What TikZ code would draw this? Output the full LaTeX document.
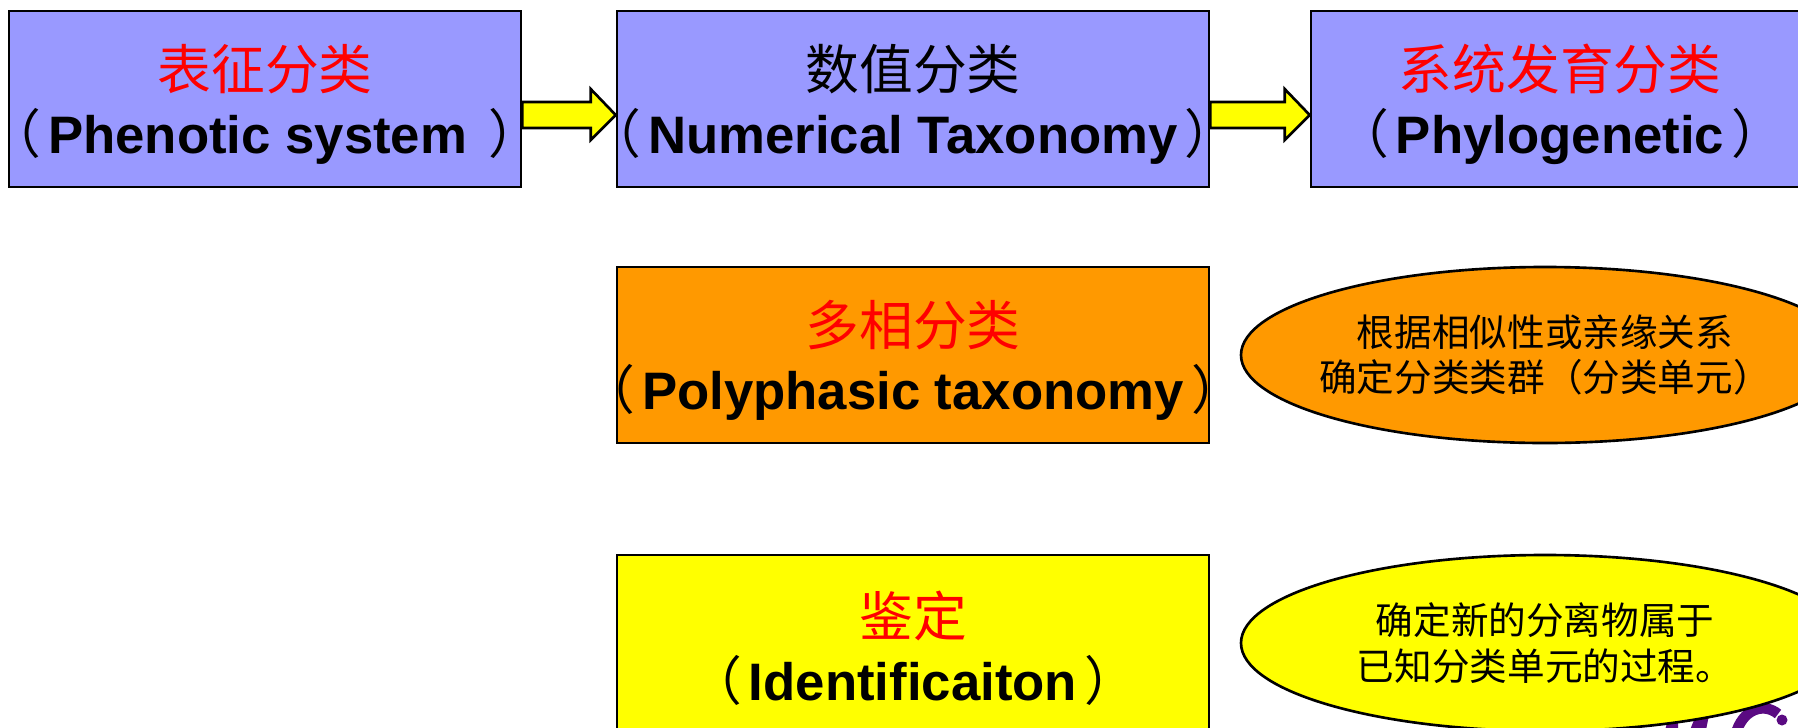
\documentclass[tikz,border=0pt]{standalone}
\usepackage{fontspec}
\setmainfont{Liberation Sans}
\newfontfamily\cjk{Noto Sans CJK SC}
\newfontfamily\cjkhalf[RawFeature=+halt]{Noto Sans CJK SC}
\usetikzlibrary{calc,shapes.geometric}
\definecolor{phenoblue}{RGB}{153,153,255}
\definecolor{polyorange}{RGB}{255,153,0}
\definecolor{logopurple}{RGB}{90,10,130}
\definecolor{idyellow}{RGB}{255,255,0}
\tikzset{
  classbox/.style={draw=black,line width=0.75pt,minimum height=1.76cm,inner sep=0pt,align=center,font=\fontsize{15}{18.2}\selectfont},
  notebubble/.style={ellipse,draw=black,line width=0.75pt,minimum width=6.08cm,minimum height=1.76cm,inner sep=0pt,align=center,font=\cjk\fontsize{10.7}{13}\selectfont},
  fatarrow/.style={draw=black,line width=0.75pt,fill=idyellow,line join=miter}
}
\newcommand{\zh}[1]{{\cjk\fontsize{15.3}{18.2}\selectfont\color{red}#1}}
\newcommand{\zk}[1]{{\cjk\fontsize{15.3}{18.2}\selectfont\color{black}#1}}
\newcommand{\la}[1]{{\cjkhalf（}\kern2pt\textbf{#1}\kern2pt{\cjkhalf）}}
% two centred lines that may run wider than their box
\newcommand{\twolines}[2]{\rule{0pt}{16pt}\clap{#1}\\\clap{#2}}
% block arrow from the east side of one box to the west side of the next
\newcommand{\fatconnect}[2]{
  \draw[fatarrow] ($(#1.east)+(0,-0.03)$) -- ($(#2.west)+(-0.25,-0.03)$) -- ($(#2.west)+(-0.25,0.10)$)
  -- ($(#2.west)+(0,-0.16)$) -- ($(#2.west)+(-0.25,-0.41)$) -- ($(#2.west)+(-0.25,-0.29)$) -- ($(#1.east)+(0,-0.29)$) -- cycle;
}
\begin{document}
\begin{tikzpicture}
  \useasboundingbox (0,0) rectangle (17.98,-7.27);
  \clip (0,0) rectangle (17.98,-7.27);
  % Logo behind the lower bubble
  \draw[logopurple,line width=3pt] (17.78,-7.14) .. controls (17.65,-7.03) and (17.45,-7.08) .. (17.37,-7.3);
  \fill[logopurple] (16.90,-7.3) -- (16.98,-7.1) -- (17.10,-7.1) -- (17.06,-7.3) -- cycle;
  \fill[logopurple] (16.65,-7.3) -- (16.68,-7.2) -- (16.78,-7.2) -- (16.78,-7.3) -- cycle;
  \fill[logopurple] (17.82,-7.20) circle (0.055);

  % Top row
  \node[classbox,fill=phenoblue,minimum width=5.12cm] (pheno) at (2.65,-0.99) {\twolines{\zh{表征分类}}{\la{Phenotic system }}};
  \node[classbox,fill=phenoblue,minimum width=5.92cm] (numeric) at (9.13,-0.99) {\twolines{\zk{数值分类}}{\la{Numerical Taxonomy}}};
  \node[classbox,fill=phenoblue,minimum width=4.98cm] (phylo) at (15.60,-0.99) {\twolines{\zh{系统发育分类}}{\la{Phylogenetic}}};
  \fatconnect{pheno}{numeric}
  \fatconnect{numeric}{phylo}

  % Middle row
  \node[classbox,fill=polyorange,minimum width=5.92cm] (poly) at (9.13,-3.55) {\twolines{\zh{多相分类}}{\la{Polyphasic taxonomy}}};
  \node[notebubble,fill=polyorange] (polynote) at (15.45,-3.55) {\clap{根据相似性或亲缘关系}\\\clap{确定分类类群（分类单元）}};

  % Bottom row
  \node[classbox,fill=idyellow,minimum width=5.92cm] (ident) at (9.13,-6.43) {\twolines{\zh{鉴定}}{\la{Identificaiton}}};
  \node[notebubble,fill=idyellow] (identnote) at (15.45,-6.43) {\clap{确定新的分离物属于}\\\clap{已知分类单元的过程。}};
\end{tikzpicture}
\end{document}
